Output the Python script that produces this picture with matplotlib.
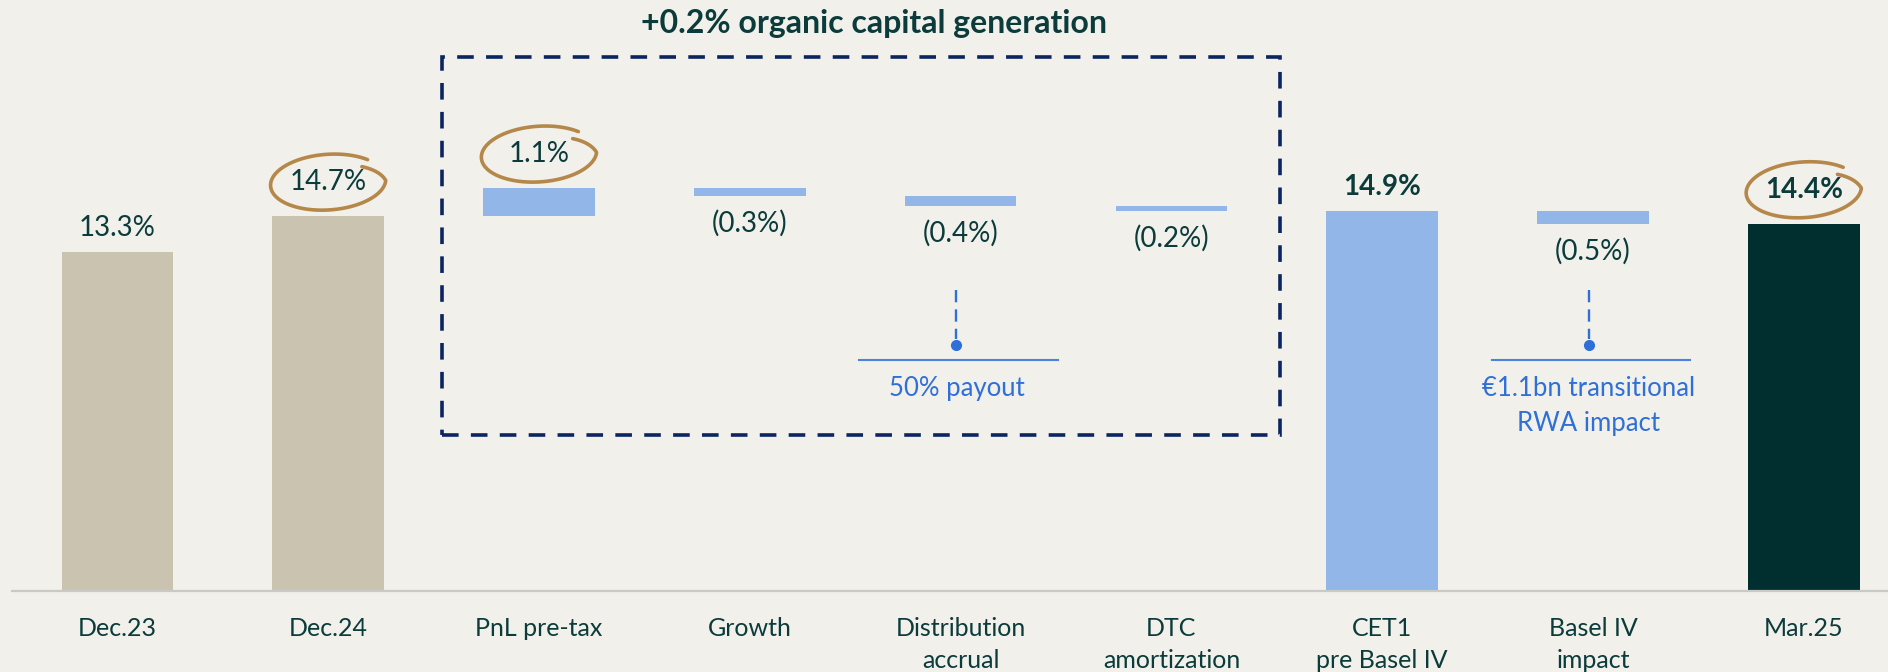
import numpy as np
import matplotlib
matplotlib.use('Agg')
import matplotlib.pyplot as plt
from matplotlib.patches import Rectangle

plt.rcParams['font.family'] = ['Lato', 'DejaVu Sans']

# data
categories = ['Dec.23', 'Dec.24', 'PnL pre-tax', 'Growth', 'Distribution\naccrual',
              'DTC\namortization', 'CET1\npre Basel IV', 'Basel IV\nimpact', 'Mar.25']
steps = [13.3, 14.7, 1.1, -0.3, -0.4, -0.2, 14.9, -0.5, 14.4]
kinds = ['total', 'total', 'delta', 'delta', 'delta', 'delta', 'total', 'delta', 'total']
bar_colors = ['#C9C3B0', '#C9C3B0', '#93B6E8', '#93B6E8', '#93B6E8', '#93B6E8',
              '#93B6E8', '#93B6E8', '#012E2E']
bold_labels = [6, 8]
circled = [1, 2, 8]
title = '+0.2% organic capital generation'
notes = [(4, '50% payout'), (7, '€1.1bn transitional\nRWA impact')]

BG = '#F1F0EB'
TXT = '#0B3B3A'
BLUE = '#2F6FD8'

# waterfall geometry
bottoms, heights = [], []
level = 0.0
for v, k in zip(steps, kinds):
    if k == 'total':
        bottoms.append(0.0)
        heights.append(v)
        level = v
    else:
        bottoms.append(level)
        heights.append(v)
        level += v

fig = plt.figure(figsize=(18.88, 6.72), dpi=100, facecolor=BG)
ax = fig.add_axes([0, 81 / 672, 1, 591 / 672])
ax.set_facecolor(BG)
x = np.arange(len(categories))
ax.bar(x, heights, bottom=bottoms, width=0.53, color=bar_colors, zorder=2)

ax.set_xlim(-117.4 / 210.8, (1888 - 117.4) / 210.8)
ax.set_ylim(0, 591 / 25.5)
for s in ['top', 'right', 'left']:
    ax.spines[s].set_visible(False)
ax.spines['bottom'].set_color('#C9C9C5')
ax.spines['bottom'].set_linewidth(1.6)
ax.spines['bottom'].set_bounds(-0.5, ax.get_xlim()[1])
ax.set_yticks([])
ax.set_xticks(x)
ax.set_xticklabels(categories, fontsize=18, color=TXT, linespacing=1.45)
ax.tick_params(axis='x', length=0, pad=19)

fig.canvas.draw()
inv = ax.transData.inverted()

# value labels
for i, (b, h, k) in enumerate(zip(bottoms, heights, kinds)):
    v = steps[i]
    if k == 'delta' and v < 0:
        txt = '(%.1f%%)' % abs(v)
        ax.annotate(txt, (i, b + h), xytext=(0, -19.5), textcoords='offset points',
                    ha='center', va='center', fontsize=20, color=TXT)
        continue
    txt = '%.1f%%' % v
    off = 24.5 if i in circled else 17
    ax.annotate(txt, (i, b + h), xytext=(0, off), textcoords='offset points',
                ha='center', va='center', fontsize=20, color=TXT,
                fontweight='bold' if i in bold_labels else 'normal')
    if i in circled:
        # hand drawn loop around the label, built in pixel space
        cx, cy = ax.transData.transform((i, b + h))
        cy += off * 100 / 72
        th = np.radians(np.linspace(45, 398, 300))
        r = np.where(th < np.radians(355), 1.05,
                     1.05 - 0.25 * (th - np.radians(355)) / np.radians(43))
        px = 55 * r * np.cos(th)
        py = 26.5 * r * np.sin(th)
        rot = np.radians(4)
        qx = px * np.cos(rot) - py * np.sin(rot)
        qy = px * np.sin(rot) + py * np.cos(rot)
        pts = inv.transform(np.column_stack([cx + qx, cy + qy]))
        ax.plot(pts[:, 0], pts[:, 1], color='#B5884A', lw=2.6,
                solid_capstyle='round', zorder=3)

# dashed box around organic generation
box = Rectangle((1.54, 6.1), 3.975, 14.85, fill=False, edgecolor='#0B2560',
                lw=2.6, linestyle=(0, (4.6, 3.4)), zorder=1)
ax.add_patch(box)
ax.text(3.59, 22.25, title, ha='center', va='center', fontsize=23,
        fontweight='bold', color=TXT)

# callouts
for idx, txt in notes:
    xc = idx - 0.02
    ax.plot([xc, xc], [11.8, 9.9], color=BLUE, lw=1.7, linestyle=(0, (5.2, 3)))
    ax.plot([xc], [9.65], marker='o', markersize=7, color=BLUE)
    ax.plot([xc - 0.46, xc + 0.48], [9.06, 9.06], color='#4A82DC', lw=1.5)
    ax.text(xc, 8.45, txt, ha='center', va='top', fontsize=18.5, color=BLUE,
            linespacing=1.5)

fig.savefig('out.png', dpi=100, facecolor=BG)
